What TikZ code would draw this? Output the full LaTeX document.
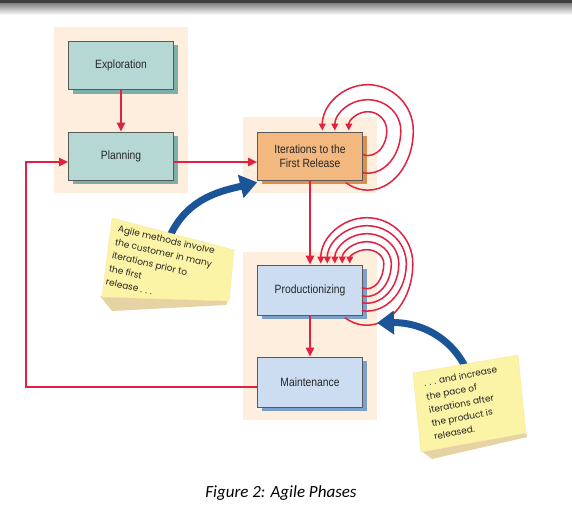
\documentclass[tikz,border=0pt]{standalone}
\usepackage{fontspec}
\setmainfont{Liberation Sans}
\newfontfamily\boxfont[FakeStretch=0.86]{Liberation Sans}
\newfontfamily\notefont{Poppins}
\newfontfamily\capfont{Carlito}
\usetikzlibrary{arrows.meta,calc,shadows}
\definecolor{peach}{HTML}{FDEEDD}
\definecolor{redline}{HTML}{E2203F}
\definecolor{tealbox}{HTML}{B6D8D4}
\definecolor{tealsh}{HTML}{7EAEA9}
\definecolor{orbox}{HTML}{F2B880}
\definecolor{orsh}{HTML}{DC8E4C}
\definecolor{bluebox}{HTML}{CCDDF2}
\definecolor{bluesh}{HTML}{7C9FCB}
\definecolor{bigblue}{HTML}{1C5597}
\definecolor{noteyel}{HTML}{FBF3A6}
\definecolor{notesh}{HTML}{E6D3A4}
\newcommand{\loopArc}[5]{%
  \draw[loopline] ($(#1)+({#2*cos(#5)},{#3*sin(#5)})$)
    arc[start angle=#5, end angle=0, x radius=#2, y radius=#3]
    arc[start angle=0, end angle=-180, x radius=#2, y radius=#4];}
\begin{document}
\begin{tikzpicture}[x=1pt,y=-1pt,
  panel/.style={fill=peach},
  phase/.style={draw=black!65, line width=0.6pt, minimum width=105pt, minimum height=48pt,
    inner sep=0pt, font=\boxfont\fontsize{12}{13.5}\selectfont, align=center, text=black!85},
  tealphase/.style={phase, fill=tealbox, drop shadow={shadow xshift=4pt, shadow yshift=-4pt, fill=tealsh, opacity=1}},
  orphase/.style={phase, fill=orbox, drop shadow={shadow xshift=4pt, shadow yshift=-4pt, fill=orsh, opacity=1}},
  bluephase/.style={phase, fill=bluebox, drop shadow={shadow xshift=4pt, shadow yshift=-4pt, fill=bluesh, opacity=1}},
  redarrow/.style={draw=redline, line width=2pt, -{Triangle[length=9pt,width=8pt]}},
  loopline/.style={draw=redline, line width=1.5pt, -{Triangle[length=7pt,width=6.5pt]}},
  bluearrow/.style={draw=bigblue, line width=7pt, -{Triangle[length=17pt,width=23pt]}},
  note/.style={fill=noteyel, draw=noteyel!80!orange!70, line width=0.4pt},
  noteshadow/.style={fill=notesh},
  notetext/.style={font=\notefont\fontsize{9}{13.5}\selectfont, align=left, inner sep=0pt, text=black!85}
]
\useasboundingbox (0,0) rectangle (572,519);
\fill[white] (0,0) rectangle (572,519);
% top bar
\fill[black!75] (0,0) rectangle (572,4);
\shade[top color=black!45, bottom color=white] (0,4) rectangle (572,15);
% panels
\fill[panel] (54,27) rectangle (188,193);
\fill[panel] (243,117) rectangle (377,193);
\fill[panel] (243,252) rectangle (377,420);
% boxes
\node[tealphase] (expl) at (121,65.5) {Exploration};
\node[tealphase] (plan) at (121,156) {Planning};
\node[orphase] (iter) at (310,156) {Iterations to the\\First Release};
\node[bluephase, minimum height=50pt] (prod) at (310,290) {Productionizing};
\node[bluephase, minimum height=50pt] (maint) at (310,382) {Maintenance};
% connectors
\draw[redarrow] (expl) -- (plan);
\draw[redarrow] ($(plan.east)+(0,6)$) -- ($(iter.west)+(0,6)$);
\draw[redarrow] (iter) -- (prod);
\draw[redarrow] (prod) -- (maint);
\draw[redarrow] ($(maint.west)+(0,5)$) -| ($(plan.west)+(-42,6)$) -- ($(plan.west)+(0,6)$);
% loops on iterations
\coordinate (loopI) at ($(iter.north east)+(5,-1)$);
\loopArc{loopI}{19}{24.9}{19}{105.3}
\loopArc{loopI}{33}{42.5}{31}{98.7}
\loopArc{loopI}{45.5}{59.4}{46}{119}
% loops on productionizing
\coordinate (loopP) at ($(prod.north east)+(4,-1)$);
\loopArc{loopP}{17}{25.1}{14}{107.1}
\loopArc{loopP}{24.5}{32.7}{22}{101.8}
\loopArc{loopP}{32}{39.5}{30}{99}
\loopArc{loopP}{39.5}{47.4}{38}{97.3}
\loopArc{loopP}{46}{61.5}{46}{118.6}
% blue arrows
\coordinate (b1s) at (170,236);
\coordinate (b1t) at ($(iter.south west)+(0,2)$);
\draw[bluearrow] (b1s) .. controls (188,196) and (226,190) .. (b1t);
\coordinate (b2s) at (470,378);
\coordinate (b2t) at (377,323);
\draw[bluearrow] (b2s) .. controls (456,338) and (420,322) .. (b2t);
% note 1
\fill[noteshadow] (100,296) -- (228,300) -- (226,305) -- (112,311) -- cycle;
\path[note] (112,218) -- (234,250) -- (229,301) -- (102,297) -- cycle;
\node[notetext, rotate=-13, anchor=north west] (n1) at (119,225)
  {Agile methods involve\\the customer in many\\iterations prior to\\the first\\release . . .};
% note 2
\fill[noteshadow] (420,450) -- (526,431) -- (527,437) -- (432,459) -- cycle;
\path[note] (413,373) -- (518,355) -- (526,433) -- (421,452) -- cycle;
\node[notetext, rotate=11, anchor=north west] (n2) at (423,380)
  {. . . and increase\\the pace of\\iterations after\\the product is\\released.};
% caption
\node[font=\capfont\itshape\fontsize{17}{20}\selectfont, anchor=base, inner sep=0pt] (cap) at (281,497) {Figure 2: Agile Phases};
\end{tikzpicture}
\end{document}
